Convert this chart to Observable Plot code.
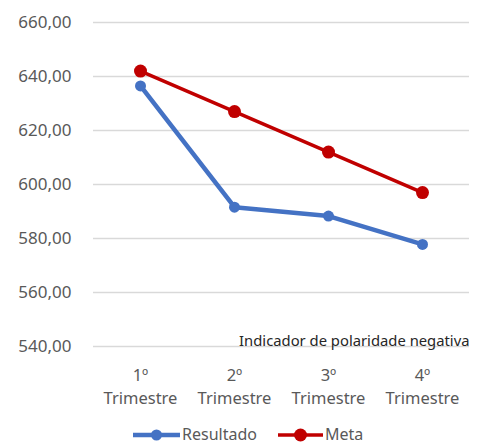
<!DOCTYPE html>
<html>
<head>
<meta charset="utf-8">
<script src="https://cdn.jsdelivr.net/npm/d3@7"></script>
<script src="https://cdn.jsdelivr.net/npm/@observablehq/plot@0.6"></script>
<style>
  html, body { margin: 0; padding: 0; background: #fff; }
  body { width: 477px; height: 445px; overflow: hidden; position: relative; font-family: "Noto Sans", sans-serif; }
  #legend { position: absolute; left: 0; top: 424px; width: 477px; height: 21px; display: flex; align-items: center; justify-content: flex-start; padding-left: 133px; box-sizing: border-box; color: #595959; font-size: 16px; line-height: 19px; }
  .item { display: flex; align-items: center; margin-right: 21px; }
  .item svg { margin-right: 2px; }
</style>
</head>
<body>
<div id="chart"></div>
<div id="legend"></div>
<script>
const quarters = ["1º\nTrimestre", "2º\nTrimestre", "3º\nTrimestre", "4º\nTrimestre"];
const resultado = [636.5, 591.6, 588.3, 577.8];
const meta = [642, 627, 612, 597];
const yTicks = [540, 560, 580, 600, 620, 640, 660];
const seriesNames = ["Resultado", "Meta"];
const seriesColors = ["#4472C4", "#C00000"];
const note = "Indicador de polaridade negativa";

const rowsR = quarters.map((q, i) => ({q, v: resultado[i]}));
const rowsM = quarters.map((q, i) => ({q, v: meta[i]}));
const fmt = d => d3.format(".2f")(d).replace(".", ",");

const chart = Plot.plot({
  width: 477,
  height: 418,
  marginLeft: 93,
  marginRight: 8,
  marginTop: 22,
  marginBottom: 72,
  style: {fontFamily: "Noto Sans", fontSize: "16px", color: "#595959", background: "#fff"},
  x: {type: "point", domain: quarters, padding: 0.5, label: null},
  y: {domain: [540, 660], label: null},
  marks: [
    Plot.gridY(yTicks, {stroke: "#d9d9d9", strokeOpacity: 1, strokeWidth: 1.3}),
    Plot.axisY(yTicks, {tickSize: 0, tickPadding: 22, tickFormat: fmt, fontSize: 17, fill: "#595959", label: null}),
    Plot.axisX({tickSize: 0, tickPadding: 19, fontSize: 16.5, lineHeight: 1.35, fill: "#595959", label: null}),
    Plot.text([note], {frameAnchor: "bottom-right", textAnchor: "end", lineAnchor: "bottom", dy: -1, fontSize: 14.8, fill: "#262626"}),
    Plot.line(rowsR, {x: "q", y: "v", stroke: seriesColors[0], strokeWidth: 4.5}),
    Plot.dot(rowsR, {x: "q", y: "v", r: 5.5, fill: seriesColors[0], stroke: "none"}),
    Plot.line(rowsM, {x: "q", y: "v", stroke: seriesColors[1], strokeWidth: 3.5}),
    Plot.dot(rowsM, {x: "q", y: "v", r: 6.5, fill: seriesColors[1], stroke: "none"})
  ]
});
document.getElementById("chart").appendChild(chart);

const legend = document.getElementById("legend");
const sw = [{w: 47, lw: 4.5, r: 5.5}, {w: 45, lw: 3.5, r: 6.5}];
seriesNames.forEach((name, i) => {
  const item = document.createElement("div");
  item.className = "item";
  const s = sw[i];
  item.innerHTML = `<svg width="${s.w}" height="16"><line x1="0" x2="${s.w}" y1="8" y2="8" stroke="${seriesColors[i]}" stroke-width="${s.lw}"/><circle cx="${s.w/2}" cy="8" r="${s.r}" fill="${seriesColors[i]}"/></svg><span>${name}</span>`;
  legend.appendChild(item);
});
</script>
</body>
</html>
